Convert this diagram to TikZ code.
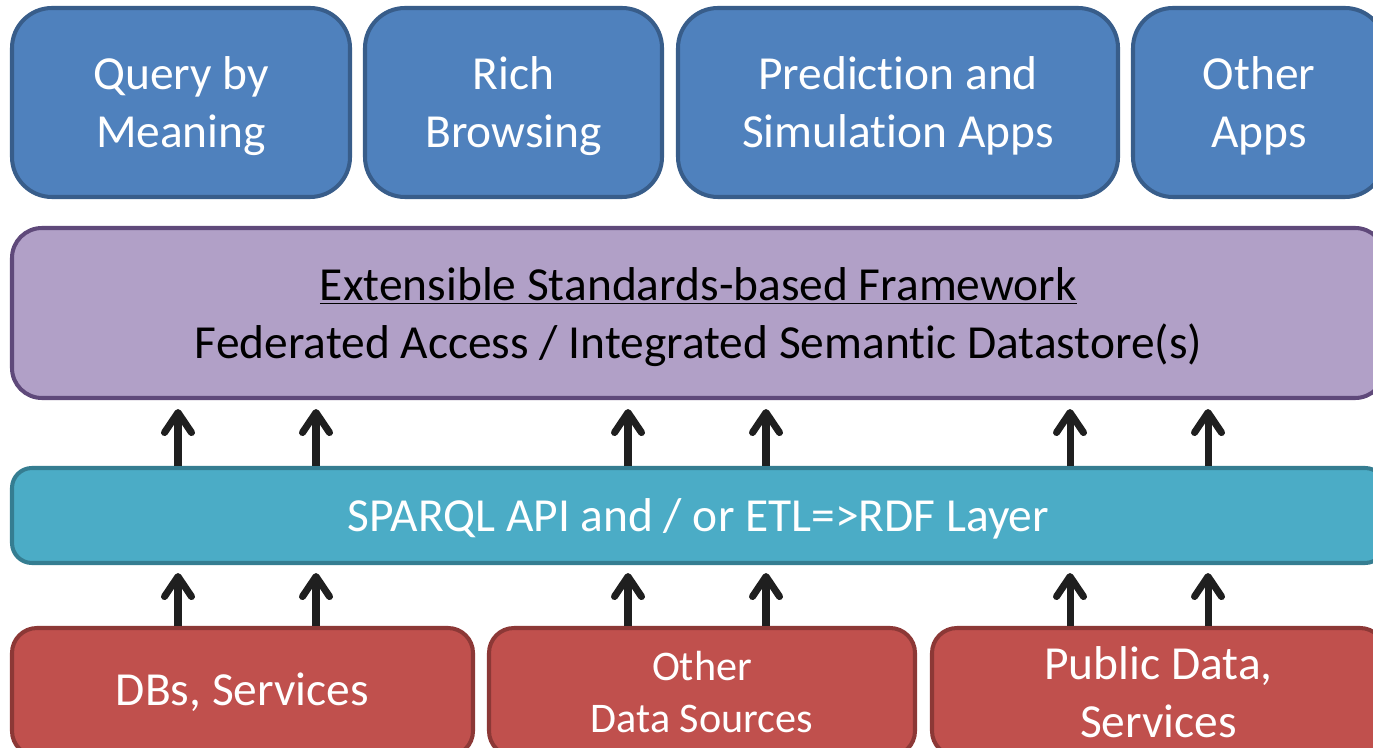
\documentclass[tikz,border=0pt]{standalone}
\usepackage{fontspec}
\setmainfont{Carlito}[Ligatures=NoCommon]
\usetikzlibrary{arrows.meta}

\definecolor{appfill}{HTML}{4F81BD}
\definecolor{appdraw}{HTML}{385D8A}
\definecolor{fwfill}{HTML}{B1A0C7}
\definecolor{fwdraw}{HTML}{5F497A}
\definecolor{layfill}{HTML}{4BACC6}
\definecolor{laydraw}{HTML}{357D91}
\definecolor{srcfill}{HTML}{C0504D}
\definecolor{srcdraw}{HTML}{8C3836}

\begin{document}
\begin{tikzpicture}[
    box/.style={draw, line width=2.3pt, inner sep=0pt, align=center,
        font=\fontsize{27}{33}\selectfont},
    app/.style={box, fill=appfill, draw=appdraw, text=white, rounded corners=0.8cm,
        minimum height=3.78cm, text depth=-0.04cm},
    fw/.style={box, fill=fwfill, draw=fwdraw, text=black, rounded corners=0.6cm,
        minimum width=27.46cm, minimum height=3.4cm, text depth=-0.12cm},
    layer/.style={box, fill=layfill, draw=laydraw, text=white, rounded corners=0.4cm,
        minimum width=27.46cm, minimum height=1.9cm, text depth=0cm},
    src/.style={box, fill=srcfill, draw=srcdraw, text=white, rounded corners=0.5cm,
        minimum height=2.56cm},
    up/.style={line width=4pt, color=black!88,
        -{Straight Barb[length=0.4cm, width=0.54cm, line cap=round, line join=round]}}
]
    \useasboundingbox (0,0) rectangle (27.46,-14.96);
    \clip (0,0) rectangle (27.46,-14.96);

    % Applications
    \node[app, minimum width=6.76cm] (query) at (3.62,-2.05) {Query by\\Meaning};
    \node[app, minimum width=5.94cm] (browse) at (10.27,-2.05) {Rich\\Browsing};
    \node[app, minimum width=8.8cm] (predict) at (17.96,-2.05) {Prediction and\\Simulation Apps};
    \node[app, minimum width=5.04cm] (otherapps) at (25.18,-2.05) {Other\\Apps};

    % Framework and layer
    \node[fw] (framework) at (13.97,-6.26)
        {\underline{Extensible Standards-based Framework}\\Federated Access / Integrated Semantic Datastore(s)};
    \node[layer] (sparql) at (13.97,-10.31) {SPARQL API and / or ETL=>RDF Layer};

    % Data sources
    \node[src, minimum width=9.22cm] (dbs) at (4.85,-13.84) {DBs, Services};
    \node[src, minimum width=8.52cm, font=\fontsize{24}{29.5}\selectfont] (otherdata) at (14.04,-13.84)
        {Other\\Data Sources};
    \node[src, minimum width=9.06cm] (public) at (23.17,-13.84) {Public Data,\\Services};

    % Arrows
    \foreach \x in {3.56,6.32,12.56,15.32,21.4,24.16} {
        \draw[up, shorten >=0.18cm] (\x,0 |- sparql.north) -- (\x,0 |- framework.south);
        \draw[up, shorten >=0.16cm] (\x,0 |- dbs.north) -- (\x,0 |- sparql.south);
    }
\end{tikzpicture}
\end{document}
